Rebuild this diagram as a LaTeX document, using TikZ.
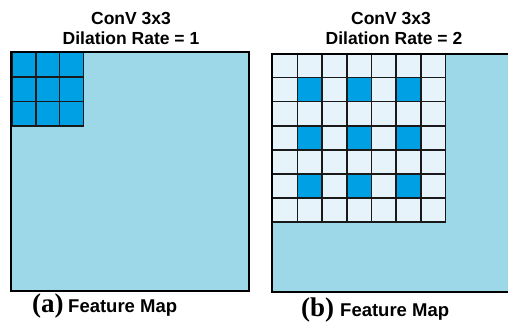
\documentclass[tikz,border=0pt]{standalone}
\usepackage{fontspec}
\setmainfont{Liberation Sans}
\newfontfamily\serifb{Liberation Serif}
\definecolor{mapblue}{HTML}{9CD8E8}
\definecolor{cellblue}{HTML}{00A0E4}
\definecolor{cellpale}{HTML}{E6F3FA}
\tikzset{
  mapbox/.style={draw=black, line width=2.4pt, fill=mapblue},
  darkcell/.style={draw=black!90, line width=1.5pt, fill=cellblue},
  palecell/.style={draw=black!90, line width=1.5pt, fill=cellpale},
  title/.style={font=\fontsize{17.5}{19}\selectfont\bfseries, anchor=base, inner sep=0pt},
  caption/.style={font=\fontsize{18.5}{20}\selectfont\bfseries, anchor=base west, inner sep=0pt},
  tag/.style={font=\serifb\fontsize{27}{29}\selectfont\bfseries, anchor=base west, inner sep=0pt}
}
\begin{document}
\begin{tikzpicture}[x=1pt,y=-1pt]
\useasboundingbox (0,0) rectangle (508,323);
% left feature map
\path[mapbox] (11,52) rectangle (249,291);
\coordinate (mapA) at (11,52);
\foreach \i in {0,1,2}{
  \foreach \j in {0,1,2}{
    \path[darkcell] (12+\i*23.8,52.5+\j*24.5) rectangle ++(23.8,24.5);
  }
}
\draw[black, line width=2.4pt] (11,52) rectangle (249,291);
% right feature map
\path[mapbox] (272,54) rectangle (520,292);
\coordinate (mapB) at (272,54);
\foreach \i in {0,...,6}{
  \foreach \j in {0,...,6}{
    \pgfmathtruncatemacro{\odd}{(mod(\i,2)==1)&&(mod(\j,2)==1)}
    \ifnum\odd=1
      \path[darkcell] (272.7+\i*24.7,53.5+\j*24.1) rectangle ++(24.7,24.1);
    \else
      \path[palecell] (272.7+\i*24.7,53.5+\j*24.1) rectangle ++(24.7,24.1);
    \fi
  }
}
\draw[black, line width=2.4pt] (520,54) -- (272,54) -- (272,292) -- (520,292);
% titles
\node[title] (tA1) at (131,25) {ConV 3x3};
\node[title] (tA2) at (131,45) {Dilation Rate = 1};
\node[title] (tB1) at (391,25) {ConV 3x3};
\node[title] (tB2) at (394,45) {Dilation Rate = 2};
% captions
\node[tag] (capA) at (32,312.5) {(a)};
\node[caption] (capAt) at (68,312.5) {Feature Map};
\node[tag] (capB) at (301,316.5) {(b)};
\node[caption] (capBt) at (340,316) {Feature Map};
\end{tikzpicture}
\end{document}
